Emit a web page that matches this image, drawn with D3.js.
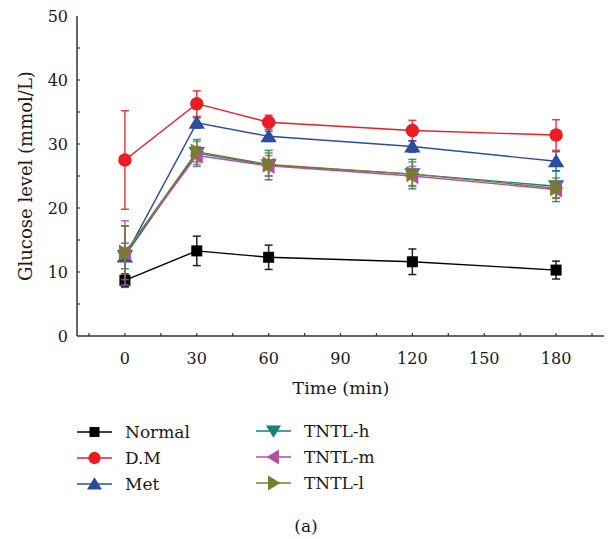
<!DOCTYPE html>
<html><head><meta charset="utf-8">
<script src="https://cdn.jsdelivr.net/npm/d3@7"></script>
<style>body{margin:0;background:#fff}svg{display:block}svg text{font-family:"DejaVu Serif",serif}</style>
</head><body><svg id="c" width="608" height="539"></svg>
<script>
const times = [0, 30, 60, 120, 180];
const xTicks = [0, 30, 60, 90, 120, 150, 180];
const yTicks = [0, 10, 20, 30, 40, 50];
const seriesNames = ["Normal", "D.M", "Met", "TNTL-h", "TNTL-m", "TNTL-l"];
const normalMean = [8.7, 13.3, 12.3, 11.6, 10.3];
const normalErr  = [1.0, 2.3, 1.9, 2.0, 1.4];
const dmMean = [27.5, 36.3, 33.4, 32.1, 31.4];
const dmErr  = [7.7, 2.0, 1.1, 1.6, 2.4];
const metMean = [12.4, 33.3, 31.2, 29.6, 27.3];
const metErr  = [4.8, 0.8, 0.8, 0.9, 1.5];
const hMean = [12.5, 28.6, 26.7, 25.3, 23.4];
const hErr  = [2.0, 2.1, 2.3, 2.3, 2.4];
const mMean = [13.0, 28.2, 26.6, 25.0, 22.9];
const mErr  = [5.0, 1.4, 1.6, 1.5, 1.3];
const lMean = [13.0, 28.8, 26.8, 25.3, 23.1];
const lErr  = [4.2, 1.6, 1.8, 1.9, 1.6];

const colors = ["#000000", "#ec1c24", "#2b4c9f", "#108278", "#b24ea6", "#7b7b2e"];
const shapes = ["square", "circle", "up", "down", "left", "right"];
const means = [normalMean, dmMean, metMean, hMean, mMean, lMean];
const errs = [normalErr, dmErr, metErr, hErr, mErr, lErr];

const svg = d3.select("#c");
const x = d3.scaleLinear().domain([-20, 200]).range([77, 604]);
const y = d3.scaleLinear().domain([0, 50]).range([336, 16]);
const axisColor = "#333";
const txt = "#1a1a1a";

svg.append("line").attr("x1", x(-20)).attr("x2", x(200)).attr("y1", y(0)).attr("y2", y(0)).attr("stroke", axisColor).attr("stroke-width", 1.5);
svg.append("line").attr("x1", x(-20)).attr("x2", x(-20)).attr("y1", y(0)).attr("y2", y(50)).attr("stroke", axisColor).attr("stroke-width", 1.5);

const xMinor = d3.range(-15, 200, 15);
svg.selectAll(".xt").data(xMinor).enter().append("line")
  .attr("x1", d => x(d)).attr("x2", d => x(d)).attr("y1", y(0)).attr("y2", y(0) - 3)
  .attr("stroke", axisColor).attr("stroke-width", 1.2);
svg.selectAll(".xl").data(xTicks).enter().append("text")
  .attr("x", d => x(d)).attr("y", y(0) + 28).attr("text-anchor", "middle")
  .style("font-size", "16px").attr("fill", txt).text(d => d);

const yMinor = d3.range(5, 50, 5);
svg.selectAll(".yt").data(yMinor).enter().append("line")
  .attr("x1", x(-20)).attr("x2", x(-20) + 3).attr("y1", d => y(d)).attr("y2", d => y(d))
  .attr("stroke", axisColor).attr("stroke-width", 1.2);
svg.selectAll(".yl").data(yTicks).enter().append("text")
  .attr("x", x(-20) - 9).attr("y", d => y(d) + 6).attr("text-anchor", "end")
  .style("font-size", "16px").attr("fill", txt).text(d => d);

svg.append("text").attr("x", 341).attr("y", 394).attr("text-anchor", "middle").style("font-size", "17.5px").attr("fill", txt).text("Time (min)");
svg.append("text").attr("transform", "translate(32,176) rotate(-90)").attr("text-anchor", "middle").style("font-size", "18px").attr("fill", txt).text("Glucose level (mmol/L)");

function marker(g, shape, cx, cy, color, s) {
  if (shape === "square") {
    g.append("rect").attr("x", cx - s/2).attr("y", cy - s/2).attr("width", s).attr("height", s).attr("fill", color);
  } else if (shape === "circle") {
    g.append("circle").attr("cx", cx).attr("cy", cy).attr("r", s * 0.56).attr("fill", color);
  } else {
    const h = s * 0.62;
    let pts;
    if (shape === "up") pts = [[cx, cy - h], [cx - h * 1.1, cy + h * 0.8], [cx + h * 1.1, cy + h * 0.8]];
    if (shape === "down") pts = [[cx, cy + h], [cx - h * 1.1, cy - h * 0.8], [cx + h * 1.1, cy - h * 0.8]];
    if (shape === "left") pts = [[cx - h, cy], [cx + h * 0.8, cy - h * 1.1], [cx + h * 0.8, cy + h * 1.1]];
    if (shape === "right") pts = [[cx + h, cy], [cx - h * 0.8, cy - h * 1.1], [cx - h * 0.8, cy + h * 1.1]];
    g.append("polygon").attr("points", pts.map(p => p.join(",")).join(" ")).attr("fill", color);
  }
}

const line = d3.line().x(d => x(d[0])).y(d => y(d[1]));
const plot = svg.append("g");
means.forEach((mv, i) => {
  const g = plot.append("g");
  const pts = times.map((t, j) => [t, mv[j], errs[i][j]]);
  pts.forEach(p => {
    g.append("line").attr("x1", x(p[0])).attr("x2", x(p[0])).attr("y1", y(p[1] - p[2])).attr("y2", y(p[1] + p[2])).attr("stroke", colors[i]).attr("stroke-width", 1.5).attr("opacity", 0.85);
    [p[1] - p[2], p[1] + p[2]].forEach(v => {
      g.append("line").attr("x1", x(p[0]) - 4).attr("x2", x(p[0]) + 4).attr("y1", y(v)).attr("y2", y(v)).attr("stroke", colors[i]).attr("stroke-width", 1.5).attr("opacity", 0.85);
    });
  });
  g.append("path").datum(pts).attr("d", line).attr("fill", "none").attr("stroke", colors[i]).attr("stroke-width", 1.4);
  pts.forEach(p => marker(g, shapes[i], x(p[0]), y(p[1]), colors[i], i === 0 ? 11 : 12));
});

const legendPos = [[77, 432], [77, 458], [77, 484], [256, 431], [256, 457], [256, 483]];
seriesNames.forEach((name, i) => {
  const [lx, ly] = legendPos[i];
  const g = svg.append("g");
  g.append("line").attr("x1", lx).attr("x2", lx + 35).attr("y1", ly).attr("y2", ly).attr("stroke", colors[i]).attr("stroke-width", 1.6);
  marker(g, shapes[i], lx + 17.5, ly, colors[i], i === 0 ? 10 : 11);
  g.append("text").attr("x", lx + 48).attr("y", ly + 6).style("font-size", "17px").attr("fill", txt).text(name);
});
svg.append("text").attr("x", 306).attr("y", 532).attr("text-anchor", "middle").style("font-size", "17px").attr("fill", txt).text("(a)");
</script></body></html>
